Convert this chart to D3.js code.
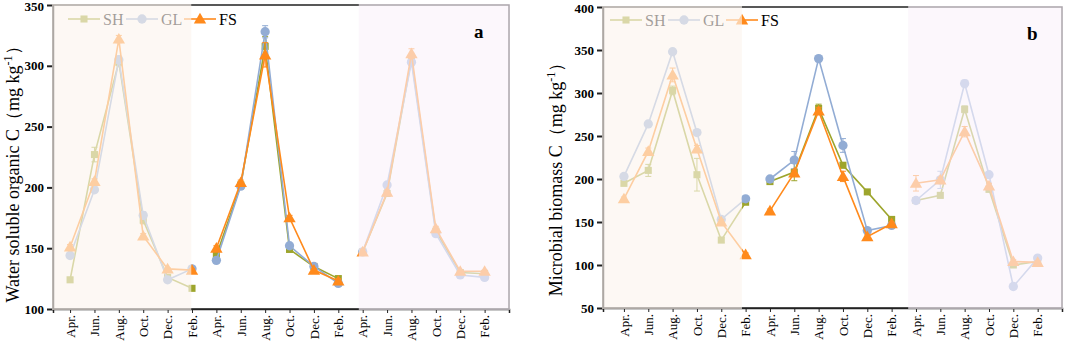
<!DOCTYPE html>
<html>
<head>
<meta charset="utf-8">
<script src="https://cdn.jsdelivr.net/npm/d3@7"></script>
<style>
  body { margin: 0; background: #fff; }
  text { font-family: "Liberation Serif", "Times New Roman", serif; }
</style>
</head>
<body>
<div id="chart"></div>
<script>
// three sampling years, six months each
const months = ["Apr.", "Jun.", "Aug.", "Oct.", "Dec.", "Feb."];
const categories = [...months, ...months, ...months];
const series = ["SH", "GL", "FS"];

// panel a: water soluble organic C
const wsocSH = [124, 227, 303, 173, 126, 117, 144, 202, 316, 149, 135, 125, 147, 195, 306, 164, 130, 129];
const wsocGL = [144, 198, 305, 177, 124, 133, 140, 201, 328, 152, 135, 121, 147, 202, 303, 162, 128, 126];
const wsocFS = [151, 205, 322, 160, 133, 132, 150, 204, 309, 175, 132, 123, 147, 196, 310, 166, 131, 131];
const wsocErrSH = [2, 6, 3, 3, 2, 1, 2, 2, 8, 2, 2, 2, 2, 2, 3, 2, 2, 2];
const wsocErrGL = [2, 2, 3, 3, 2, 1, 2, 2, 5, 2, 2, 2, 2, 2, 3, 2, 2, 2];
const wsocErrFS = [2, 2, 3, 2, 1, 1, 2, 2, 10, 2, 1, 2, 2, 2, 4, 2, 1, 1];

// panel b: microbial biomass C
const mbcSH = [195, 210, 303, 205, 129, 173, 197, 208, 282, 216, 185, 153, 175, 181, 281, 188, 100, 104];
const mbcGL = [203, 264, 348, 254, 153, 177, 200, 222, 340, 239, 140, 146, 175, 199, 311, 205, 75, 108];
const mbcFS = [177, 232, 321, 235, 150, 112, 163, 207, 279, 203, 133, 148, 195, 199, 255, 192, 104, 103];
const mbcErrSH = [3, 7, 5, 19, 3, 2, 2, 10, 5, 3, 2, 2, 2, 3, 4, 3, 2, 2];
const mbcErrGL = [2, 3, 3, 3, 2, 2, 2, 10, 2, 8, 2, 2, 2, 10, 4, 3, 2, 2];
const mbcErrFS = [2, 4, 8, 4, 3, 2, 2, 3, 4, 6, 2, 2, 9, 3, 6, 3, 2, 2];

const yTicksA = [100, 150, 200, 250, 300, 350];
const yTicksB = [50, 100, 150, 200, 250, 300, 350, 400];

const colors = { SH: "#9da52c", GL: "#92acd4", FS: "#ff8a1c" };
const symbols = { SH: d3.symbolSquare, GL: d3.symbolCircle, FS: d3.symbolTriangle };
const symSize = { SH: 50, GL: 68, FS: 66 };

const svg = d3.select("#chart").append("svg")
  .attr("width", 1065)
  .attr("height", 341);

function drawPanel(p) {
  const x = d3.scaleLinear().domain(p.xDomain).range([p.left, p.right]);
  const y = d3.scaleLinear().domain(p.yDomain).range([p.bottom, p.top]);
  const g = svg.append("g");

  // frame
  g.append("rect")
    .attr("x", p.left).attr("y", p.top)
    .attr("width", p.right - p.left).attr("height", p.bottom - p.top)
    .attr("fill", "none").attr("stroke", "#222").attr("stroke-width", 1.5);

  // y axis
  const ya = g.append("g")
    .attr("transform", `translate(${p.left},0)`)
    .call(d3.axisLeft(y).tickValues(p.yTicks).tickSize(6).tickSizeOuter(0).tickPadding(3));
  ya.select(".domain").attr("stroke", "#222").attr("stroke-width", 1.5);
  ya.selectAll(".tick line").attr("stroke", "#222").attr("stroke-width", 2);
  ya.selectAll(".tick text")
    .attr("font-family", "Liberation Serif")
    .attr("font-weight", "bold")
    .attr("font-size", 13)
    .attr("fill", "#000")
    .attr("dy", (d, i, n) => i === n.length - 1 ? "0.45em" : "0.32em");

  // x axis
  const xa = g.append("g")
    .attr("transform", `translate(0,${p.bottom})`)
    .call(d3.axisBottom(x).tickValues(d3.range(categories.length))
      .tickFormat(i => categories[i]).tickSize(4).tickSizeOuter(4));
  xa.select(".domain").attr("stroke", "#222").attr("stroke-width", 1.5);
  xa.selectAll(".tick line").attr("stroke", "#222").attr("stroke-width", 1);
  xa.selectAll(".tick text")
    .attr("font-family", "Liberation Serif")
    .attr("font-size", 13)
    .attr("fill", "#000")
    .attr("transform", "rotate(-90)")
    .attr("text-anchor", "end")
    .attr("x", -6)
    .attr("y", 0)
    .attr("dy", "0.33em");

  // lines, error bars, markers (each year is its own segment)
  series.forEach(s => {
    const vals = p.values[s];
    const errs = p.errors[s];
    const col = colors[s];
    for (let sec = 0; sec < 3; sec++) {
      const idx = d3.range(sec * 6, sec * 6 + 6);
      g.append("path")
        .datum(idx)
        .attr("fill", "none")
        .attr("stroke", col)
        .attr("stroke-width", 1.6)
        .attr("d", d3.line().x(i => x(i)).y(i => y(vals[i])));
    }
    const eb = g.append("g").attr("stroke", col).attr("stroke-width", 1);
    categories.forEach((c, i) => {
      const x0 = x(i), yt = y(vals[i] + errs[i]), yb = y(vals[i] - errs[i]);
      eb.append("line").attr("x1", x0).attr("x2", x0).attr("y1", yt).attr("y2", yb);
      eb.append("line").attr("x1", x0 - 3).attr("x2", x0 + 3).attr("y1", yt).attr("y2", yt);
      eb.append("line").attr("x1", x0 - 3).attr("x2", x0 + 3).attr("y1", yb).attr("y2", yb);
    });
    g.append("g").selectAll("path")
      .data(d3.range(categories.length))
      .enter().append("path")
      .attr("transform", i => `translate(${x(i)},${y(vals[i]) + (s === "FS" ? 1 : 0)})`)
      .attr("d", d3.symbol().type(symbols[s]).size(symSize[s]))
      .attr("fill", col);
  });

  // legend
  const lg = g.append("g").attr("transform", `translate(${p.legendX},${p.legendY})`);
  series.forEach((s, k) => {
    const item = lg.append("g").attr("transform", `translate(${k * 58},0)`);
    item.append("line").attr("x1", 0).attr("x2", 32).attr("y1", 0).attr("y2", 0)
      .attr("stroke", colors[s]).attr("stroke-width", 1.6);
    item.append("path").attr("transform", `translate(16,${s === "FS" ? 1 : 0})`)
      .attr("d", d3.symbol().type(symbols[s]).size(symSize[s]))
      .attr("fill", colors[s]);
    item.append("text").attr("x", 35).attr("y", 0).attr("dy", "0.35em")
      .attr("font-size", 16).attr("fill", "#000").text(s);
  });

  // tinted year bands laid over the data
  g.append("rect")
    .attr("x", p.left - 1).attr("y", p.top - 1)
    .attr("width", x(p.breaks[0]) - p.left + 1).attr("height", p.bottom - p.top + 2)
    .attr("fill", "#fcf4ee").attr("fill-opacity", 0.64);
  g.append("rect")
    .attr("x", x(p.breaks[1])).attr("y", p.top - 1)
    .attr("width", p.right - x(p.breaks[1]) + 1).attr("height", p.bottom - p.top + 2)
    .attr("fill", "#faf2fa").attr("fill-opacity", 0.64);

  // panel letter
  g.append("text")
    .attr("x", p.right - 35).attr("y", p.top + 33)
    .attr("font-size", 19).attr("font-weight", "bold").attr("fill", "#000")
    .text(p.letter);

  // y title
  const t = g.append("text")
    .attr("transform", `translate(${p.titleX},${p.titleY}) rotate(-90)`)
    .attr("text-anchor", "middle")
    .attr("font-size", 18).attr("fill", "#000");
  t.append("tspan").text(p.title + "（mg kg");
  t.append("tspan").attr("dy", -7).attr("font-size", 12).text("-1");
  t.append("tspan").attr("dy", 7).text("）");
}

drawPanel({
  left: 53, right: 509, top: 5, bottom: 309,
  xDomain: [-0.7, 18], yDomain: [100, 350], yTicks: yTicksA,
  breaks: [4.97, 11.84],
  values: { SH: wsocSH, GL: wsocGL, FS: wsocFS },
  errors: { SH: wsocErrSH, GL: wsocErrGL, FS: wsocErrFS },
  legendX: 68, legendY: 19, letter: "a",
  title: "Water soluble organic  C", titleX: 19, titleY: 170
});

drawPanel({
  left: 603, right: 1062, top: 7, bottom: 308,
  xDomain: [-0.86, 18], yDomain: [50, 400], yTicks: yTicksB,
  breaks: [4.85, 11.68],
  values: { SH: mbcSH, GL: mbcGL, FS: mbcFS },
  errors: { SH: mbcErrSH, GL: mbcErrGL, FS: mbcErrFS },
  legendX: 610, legendY: 20, letter: "b",
  title: "Microbial biomass C", titleX: 562, titleY: 175
});
</script>
</body>
</html>
